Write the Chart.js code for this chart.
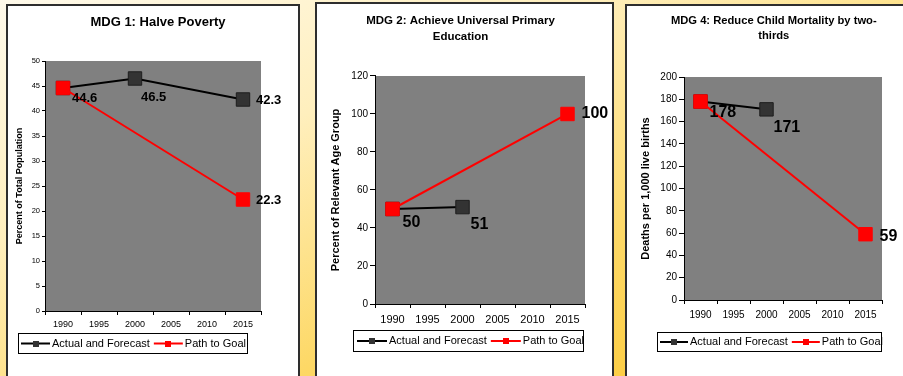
<!DOCTYPE html>
<html>
<head>
<meta charset="utf-8">
<script src="https://cdn.jsdelivr.net/npm/chart.js@4/dist/chart.umd.min.js"></script>
<style>
  html, body { margin: 0; padding: 0; }
  body {
    width: 903px; height: 376px; overflow: hidden; position: relative;
    background: linear-gradient(to bottom right, #fffaeb 0%, #ffefbd 32%, #fdd865 66%, #fbc52c 100%);
  }
  .panel { position: absolute; background: #fff; border: 2px solid #2e2e2e; overflow: hidden; }
  .panel canvas { position: absolute; left: 0; top: 0; }
</style>
</head>
<body>
<div class="panel" style="left:6px;top:4px;width:290px;height:400px"><canvas id="mdg1" width="290" height="370"></canvas></div>
<div class="panel" style="left:315px;top:2px;width:295px;height:400px"><canvas id="mdg2" width="295" height="372"></canvas></div>
<div class="panel" style="left:625px;top:4px;width:300px;height:400px"><canvas id="mdg4" width="276" height="370"></canvas></div>

<script>
// ---- data ----
const years = ['1990', '1995', '2000', '2005', '2010', '2015'];
const seriesNames = ['Actual and Forecast', 'Path to Goal'];

const povertyActual = [44.6, null, 46.5, null, null, 42.3];
const povertyGoal   = [44.6, null, null, null, null, 22.3];

const educationActual = [50, null, 51, null, null, null];
const educationGoal   = [50, null, null, null, null, 100];

const mortalityActual = [178, null, 171, null, null, null];
const mortalityGoal   = [178, null, null, null, null, 59];

const titles = {
  mdg1: 'MDG 1: Halve Poverty',
  mdg2: ['MDG 2: Achieve Universal Primary', 'Education'],
  mdg4: ['MDG 4: Reduce Child Mortality by two-', 'thirds']
};
const axisTitles = {
  mdg1: 'Percent of Total Population',
  mdg2: 'Percent of Relevant Age Group',
  mdg4: 'Deaths per 1,000 live births'
};

// ---- drawing helpers ----
const FONT = '"Liberation Sans", Arial, Helvetica, sans-serif';
Chart.defaults.font.family = FONT;

const plotFill = {
  id: 'plotFill',
  beforeDraw(chart) {
    const { ctx, chartArea: a } = chart;
    ctx.save();
    ctx.fillStyle = '#808080';
    ctx.fillRect(a.left, a.top, a.right - a.left, a.bottom - a.top);
    ctx.restore();
  }
};

function titleShift(dx) {
  return {
    id: 'titleShift',
    afterLayout(chart) {
      const t = chart.titleBlock;
      if (t) { t.left += dx; t.right += dx; }
    }
  };
}

function valueLabels(items, fontSize) {
  return {
    id: 'valueLabels',
    afterDatasetsDraw(chart) {
      const ctx = chart.ctx;
      ctx.save();
      ctx.font = 'bold ' + fontSize + 'px ' + FONT;
      ctx.fillStyle = '#000';
      ctx.textAlign = 'left';
      ctx.textBaseline = 'middle';
      items.forEach(({ ds, i, dx, dy }) => {
        const pt = chart.getDatasetMeta(ds).data[i];
        const v = chart.data.datasets[ds].data[i];
        ctx.fillText(String(v), pt.x + dx, pt.y + dy);
      });
      ctx.restore();
    }
  };
}

function boxedLegend(box) {
  return {
    id: 'boxedLegend',
    afterDraw(chart) {
      const ctx = chart.ctx;
      ctx.save();
      ctx.fillStyle = '#fff';
      ctx.fillRect(box.x, box.y, box.w, box.h);
      ctx.strokeStyle = '#000';
      ctx.lineWidth = 1;
      ctx.strokeRect(box.x + 0.5, box.y + 0.5, box.w - 1, box.h - 1);
      ctx.font = '11px ' + FONT;
      ctx.textBaseline = 'middle';
      ctx.textAlign = 'left';
      const cy = box.y + box.h / 2;
      let cx = box.x + box.padLeft;
      chart.data.datasets.forEach(ds => {
        ctx.strokeStyle = ds.borderColor;
        ctx.lineWidth = 2;
        ctx.beginPath();
        ctx.moveTo(cx, cy);
        ctx.lineTo(cx + box.lineLen, cy);
        ctx.stroke();
        ctx.fillStyle = ds.pointBackgroundColor;
        ctx.fillRect(Math.round(cx + box.lineLen / 2 - 3), Math.round(cy - 3), 6, 6);
        cx += box.lineLen + 2;
        ctx.fillStyle = '#000';
        ctx.fillText(ds.label, cx, cy);
        cx += ctx.measureText(ds.label).width + box.itemGap;
      });
      ctx.restore();
    }
  };
}

function mdgChart(id, cfg) {
  const common = {
    borderWidth: 2, pointStyle: 'rect', pointRadius: 9.5, pointHoverRadius: 9.5,
    pointBorderWidth: 1, spanGaps: true, tension: 0, fill: false
  };
  return new Chart(document.getElementById(id), {
    type: 'line',
    data: {
      labels: years,
      datasets: [
        Object.assign({
          label: seriesNames[0], data: cfg.actual, order: 2,
          borderColor: '#000000', backgroundColor: '#333333',
          pointBackgroundColor: '#333333', pointBorderColor: '#1e1e1e'
        }, common),
        Object.assign({
          label: seriesNames[1], data: cfg.goal, order: 1,
          borderColor: '#ff0000', backgroundColor: '#ff0000',
          pointBackgroundColor: '#ff0000', pointBorderColor: '#ff0000'
        }, common)
      ]
    },
    options: {
      responsive: false,
      animation: false,
      devicePixelRatio: 1,
      events: [],
      layout: { padding: cfg.padding },
      plugins: {
        legend: { display: false },
        tooltip: { enabled: false },
        title: {
          display: true, text: cfg.title, color: '#000',
          font: { size: cfg.titleSize, weight: 'bold', lineHeight: cfg.titleLH },
          padding: cfg.titlePad
        }
      },
      scales: {
        x: {
          type: 'category', offset: true,
          grid: { offset: true, drawOnChartArea: false, drawTicks: true, tickLength: 4, color: '#000' },
          border: { color: '#000', width: 1 },
          ticks: { color: '#000', font: { size: cfg.xTickSize }, padding: cfg.xTickPad, maxRotation: 0, autoSkip: false },
          afterFit(s) { s.height = 30; }
        },
        y: {
          min: 0, max: cfg.max,
          ticks: { stepSize: cfg.step, color: '#000', font: { size: cfg.yTickSize }, padding: 2 },
          grid: { drawOnChartArea: false, drawTicks: true, tickLength: cfg.yTickLen, color: '#000' },
          border: { color: '#000', width: 1 },
          title: {
            display: true, text: cfg.yTitle, color: '#000',
            font: { size: cfg.yTitleSize, weight: 'bold' },
            padding: { top: cfg.yTitlePad, bottom: 0 }
          },
          afterFit(s) { s.width = cfg.yWidth; }
        }
      }
    },
    plugins: [plotFill, titleShift(cfg.titleShift), valueLabels(cfg.labels, cfg.labelSize), boxedLegend(cfg.legend)]
  });
}

mdgChart('mdg1', {
  actual: povertyActual, goal: povertyGoal, max: 50, step: 5,
  title: titles.mdg1, titleSize: 13, titleLH: 1.2, titlePad: { top: 8.9, bottom: 30.5 }, titleShift: 23.5,
  padding: { left: 0, right: 37, top: 0, bottom: 35 },
  yWidth: 37, yTickLen: 3, yTickSize: 7.5, yTitle: axisTitles.mdg1, yTitleSize: 9, yTitlePad: 6.6,
  xTickSize: 9, xTickPad: 4,
  labelSize: 13,
  labels: [
    { ds: 0, i: 0, dx: 9, dy: 10.5 },
    { ds: 0, i: 2, dx: 6, dy: 19 },
    { ds: 0, i: 5, dx: 13, dy: 1 },
    { ds: 1, i: 5, dx: 13, dy: 1 }
  ],
  legend: { x: 10, y: 327, w: 230, h: 21, padLeft: 3, lineLen: 29, itemGap: 4 }
});

mdgChart('mdg2', {
  actual: educationActual, goal: educationGoal, max: 120, step: 20,
  title: titles.mdg2, titleSize: 11.5, titleLH: 1.365, titlePad: { top: 9.15, bottom: 31.45 }, titleShift: 9.5,
  padding: { left: 0, right: 27, top: 0, bottom: 42 },
  yWidth: 58, yTickLen: 5, yTickSize: 10, yTitle: axisTitles.mdg2, yTitleSize: 11, yTitlePad: 12.4,
  xTickSize: 11, xTickPad: 5,
  labelSize: 16,
  labels: [
    { ds: 0, i: 0, dx: 10, dy: 13.5 },
    { ds: 0, i: 2, dx: 8, dy: 17.5 },
    { ds: 1, i: 5, dx: 14, dy: 0 }
  ],
  legend: { x: 36, y: 326, w: 231, h: 22, padLeft: 4, lineLen: 30, itemGap: 4 }
});

mdgChart('mdg4', {
  actual: mortalityActual, goal: mortalityGoal, max: 200, step: 20,
  title: titles.mdg4, titleSize: 11.2, titleLH: 1.34, titlePad: { top: 7.2, bottom: 33.8 }, titleShift: 19.3,
  padding: { left: 0, right: 21, top: 0, bottom: 46 },
  yWidth: 57, yTickLen: 5, yTickSize: 10, yTitle: axisTitles.mdg4, yTitleSize: 11, yTitlePad: 12.4,
  xTickSize: 10, xTickPad: 5,
  labelSize: 16,
  labels: [
    { ds: 0, i: 0, dx: 9, dy: 11 },
    { ds: 0, i: 2, dx: 7, dy: 18 },
    { ds: 1, i: 5, dx: 14, dy: 2 }
  ],
  legend: { x: 30, y: 326, w: 225, h: 20, padLeft: 3, lineLen: 28, itemGap: 4 }
});
</script>
</body>
</html>
